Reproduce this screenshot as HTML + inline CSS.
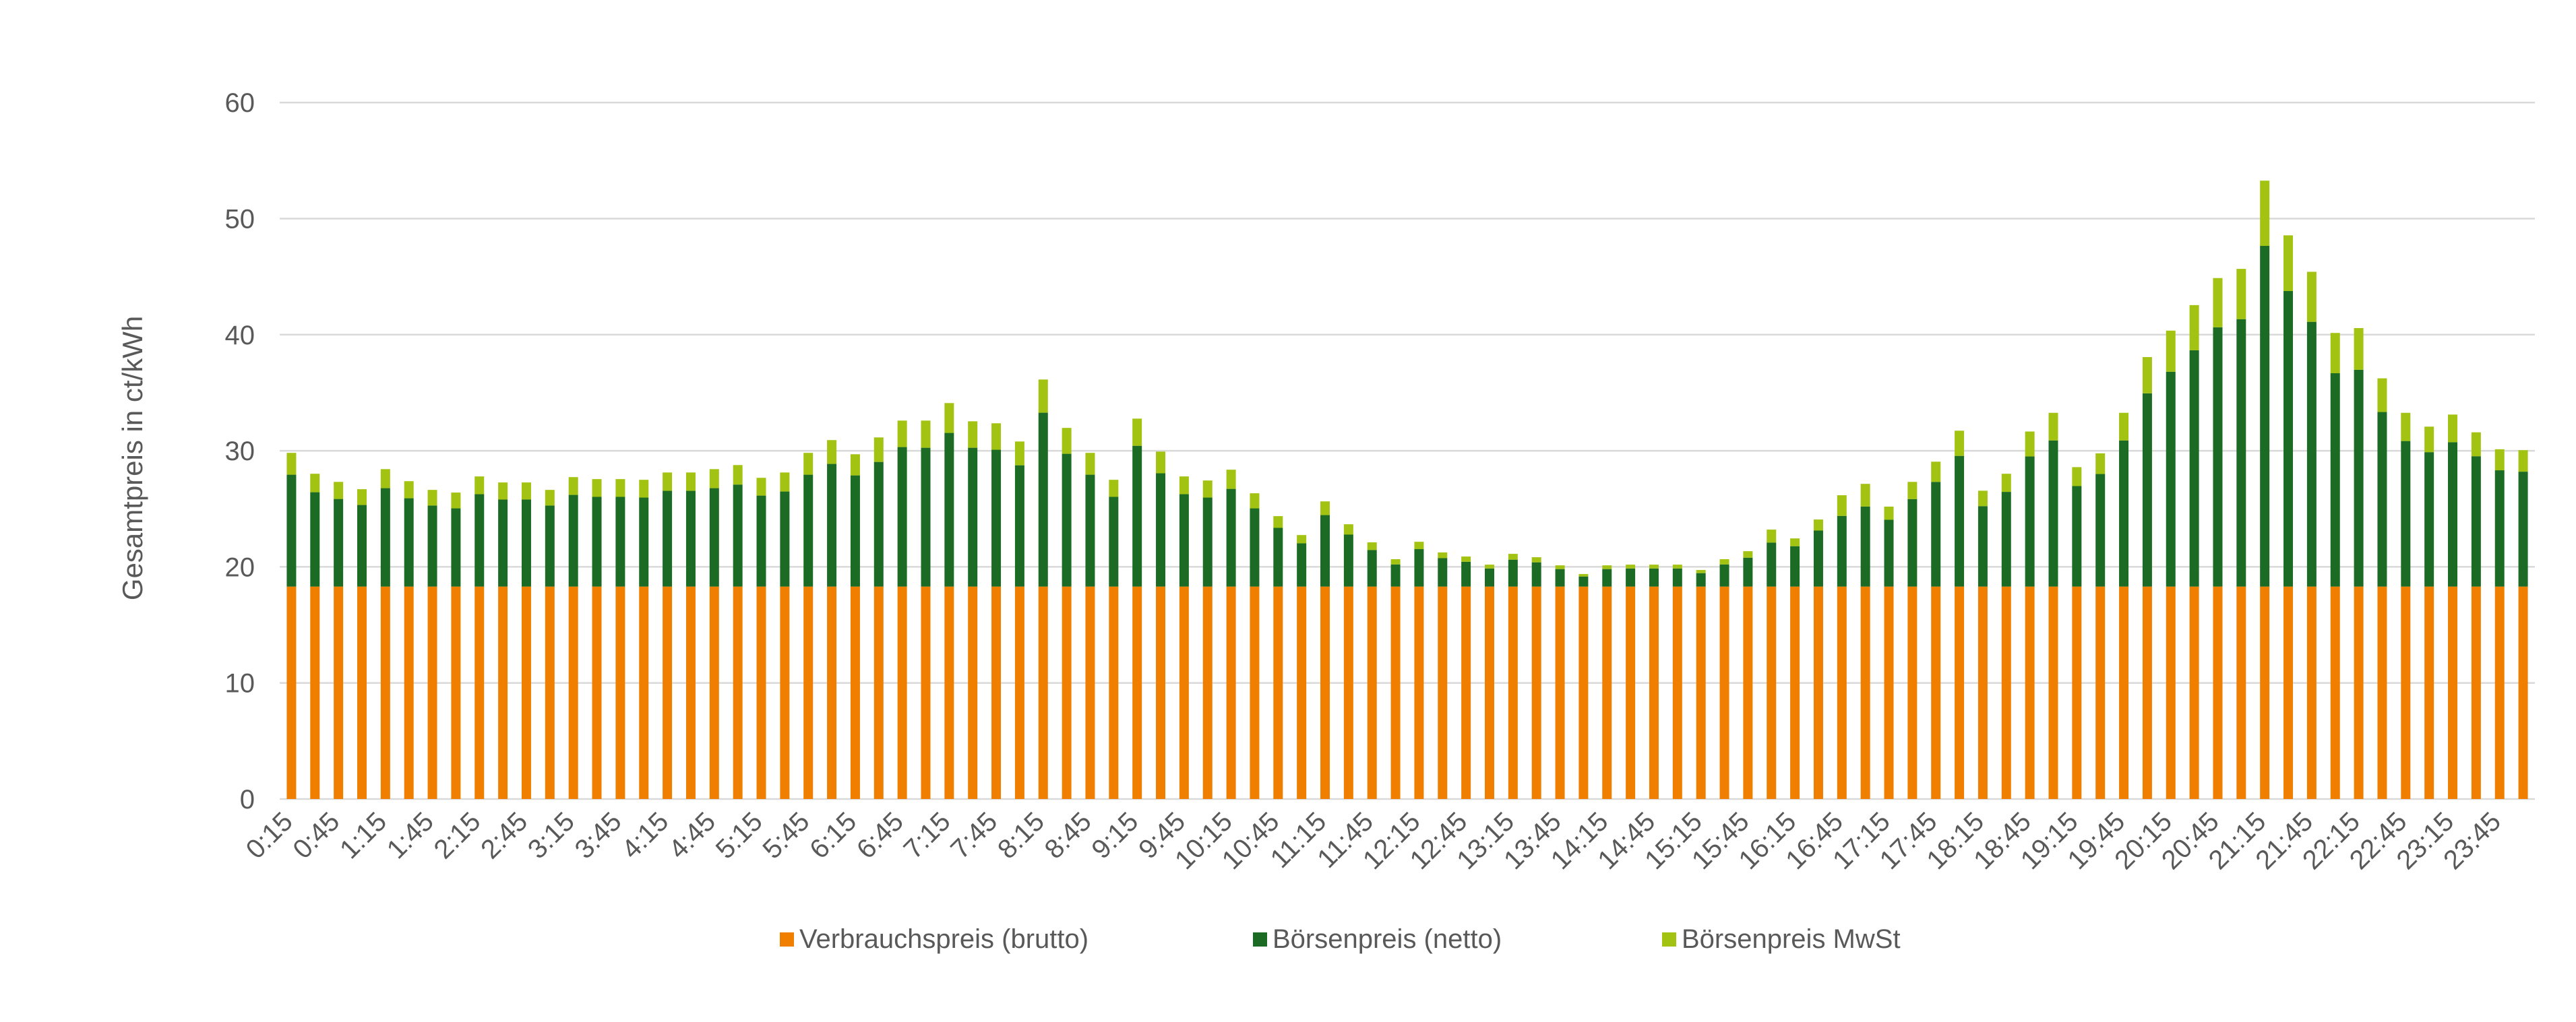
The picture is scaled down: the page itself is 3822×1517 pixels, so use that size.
<!DOCTYPE html>
<html><head><meta charset="utf-8"><style>
html,body{margin:0;padding:0;background:#fff;}
svg{display:block;font-family:"Liberation Sans",Arial,sans-serif;}
</style></head><body>
<svg id="chart" width="3822" height="1517" viewBox="0 0 3822 1517" xmlns="http://www.w3.org/2000/svg">
<g id="grid"></g>
<g id="yticks"></g>
<g id="bars"></g>
<g id="xticks"></g>
<text x="0" y="0" transform="translate(211,680) rotate(-90)" text-anchor="middle" font-size="42" fill="#595959">Gesamtpreis in ct/kWh</text>
<g>
<g><rect x="1157" y="1384" width="21" height="21" fill="#F07F00"/><text x="1186" y="1407" font-size="40" fill="#595959">Verbrauchspreis (brutto)</text></g>
<g><rect x="1859" y="1384" width="21" height="21" fill="#1B6B24"/><text x="1888" y="1407" font-size="40" fill="#595959">Börsenpreis (netto)</text></g>
<g><rect x="2466" y="1384" width="21" height="21" fill="#A2C311"/><text x="2495" y="1407" font-size="40" fill="#595959">Börsenpreis MwSt</text></g>
</g>
</svg>
<script>
const base = 18.3;
const netTop = [27.94,26.43,25.85,25.33,26.78,25.91,25.28,25.04,26.26,25.80,25.80,25.28,26.20,26.03,26.03,25.97,26.55,26.55,26.78,27.09,26.14,26.49,27.94,28.87,
27.88,29.04,30.32,30.26,31.54,30.26,30.09,28.75,33.28,29.74,27.94,26.03,30.43,28.06,26.26,25.97,26.72,25.04,23.36,22.03,24.46,22.78,21.45,20.21,
21.53,20.75,20.44,19.86,20.62,20.39,19.81,19.17,19.81,19.86,19.86,19.86,19.46,20.21,20.79,22.09,21.78,23.13,24.39,25.20,24.06,25.84,27.32,29.56,
25.23,26.46,29.51,30.89,26.96,28.00,30.89,34.95,36.81,38.66,40.64,41.34,47.65,43.76,41.11,36.68,36.98,33.34,30.84,29.88,30.74,29.53,28.32,28.20];
const totalTop = [29.82,28.02,27.32,26.69,28.42,27.38,26.63,26.40,27.79,27.27,27.27,26.63,27.73,27.56,27.56,27.50,28.13,28.13,28.42,28.77,27.67,28.13,29.82,30.92,
29.70,31.15,32.60,32.60,34.11,32.54,32.37,30.80,36.14,31.97,29.82,27.50,32.77,29.93,27.79,27.44,28.37,26.34,24.37,22.74,25.64,23.67,22.11,20.66,
22.16,21.24,20.89,20.19,21.12,20.83,20.13,19.38,20.13,20.19,20.19,20.19,19.73,20.66,21.35,23.21,22.45,24.08,26.17,27.15,25.19,27.32,29.06,31.73,
26.56,28.02,31.66,33.27,28.59,29.78,33.27,38.07,40.35,42.55,44.88,45.67,53.27,48.56,45.42,40.15,40.57,36.24,33.27,32.08,33.12,31.59,30.13,30.05];
const yTicks = [0,10,20,30,40,50,60];

const NS = "http://www.w3.org/2000/svg";
const X0 = 415, X1 = 3761, Y0 = 1186, YMAX = 60, YTOP = 152.2;
const n = netTop.length;
const cw = (X1 - X0) / n;
function xC(i){ return X0 + cw * (i + 0.5); }
function yS(v){ return Y0 - (v / YMAX) * (Y0 - YTOP); }
function mk(tag, attrs, parent){ const e = document.createElementNS(NS, tag); for (const k in attrs) e.setAttribute(k, attrs[k]); parent.appendChild(e); return e; }
const grid = document.getElementById('grid'), yt = document.getElementById('yticks'), bars = document.getElementById('bars'), xt = document.getElementById('xticks');
yTicks.forEach(t => {
  const l = mk('line', {x1:X0, x2:X1, y1:yS(t), y2:yS(t), stroke:'#D9D9D9', 'stroke-width':2.5}, grid);
  
  
  const tx = mk('text', {x:378, y:yS(t)+14, 'text-anchor':'end', 'font-size':40, fill:'#595959'}, yt);
  tx.textContent = t;
  
  
});
const bw = 14;
for (let i = 0; i < n; i++) {
  const x = xC(i) - bw/2;
  const g = mk('g', {}, bars);
  
  
  const r1 = mk('rect', {x:x, y:yS(base), width:bw, height:yS(0)-yS(base), fill:'#F07F00'}, g);
  
  
  const r2 = mk('rect', {x:x, y:yS(netTop[i]), width:bw, height:yS(base)-yS(netTop[i]), fill:'#1B6B24'}, g);
  
  
  const r3 = mk('rect', {x:x, y:yS(totalTop[i]), width:bw, height:yS(netTop[i])-yS(totalTop[i]), fill:'#A2C311'}, g);
  
  
  if (i % 2 === 0) {
    const mins = (i + 1) * 15;
    const lab = Math.floor(mins/60) + ':' + String(mins % 60).padStart(2,'0');
    const cx = xC(i) + 4, cy = 1222;
    const tx = mk('text', {x:cx, y:cy, 'text-anchor':'end', 'font-size':40, fill:'#595959', transform:'rotate(-45 '+cx+' '+cy+')'}, xt);
    tx.textContent = lab;
    
    
  }
}
</script>
</body></html>
